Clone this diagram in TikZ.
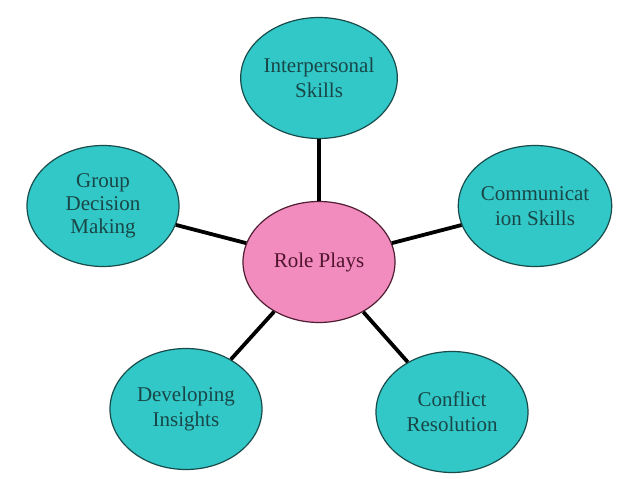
\documentclass[tikz,border=0pt]{standalone}
\usepackage{fontspec}
\setmainfont{Liberation Serif}
\usetikzlibrary{shapes.geometric}
\definecolor{tealfill}{RGB}{50,200,200}
\definecolor{tealedge}{RGB}{25,75,75}
\definecolor{tealtext}{RGB}{25,70,70}
\definecolor{pinkfill}{RGB}{242,140,190}
\definecolor{pinkedge}{RGB}{80,30,50}
\definecolor{pinktext}{RGB}{80,20,45}
\tikzset{
  bubble/.style={ellipse, draw=tealedge, fill=tealfill, line width=1.2pt,
    minimum width=152pt, minimum height=121pt, inner sep=0pt, align=center,
    text=tealtext, font=\fontsize{21}{25}\selectfont},
  hub/.style={bubble, draw=pinkedge, fill=pinkfill, text=pinktext},
  link/.style={line width=3.8pt, black}
}
\begin{document}
\begin{tikzpicture}[x=1pt,y=-1pt]
\useasboundingbox[fill=white] (0,0) rectangle (638,479);
\node[hub] (c) at (319,262) {Role Plays};
\node[bubble] (t) at (319,78) {Interpersonal\\Skills};
\node[bubble] (r) at (535,206) {Communicat\\ion Skills};
\node[bubble, font=\fontsize{21}{23}\selectfont] (l) at (103,206) {Group\\Decision\\Making};
\node[bubble] (bl) at (186,409) {Developing\\Insights};
\node[bubble] (br) at (452,412) {Conflict\\Resolution};
\draw[link] (t) -- (c);
\draw[link] (r) -- (c);
\draw[link] (l) -- (c);
\draw[link] (bl) -- (c);
\draw[link] (br) -- (c);
\end{tikzpicture}
\end{document}
